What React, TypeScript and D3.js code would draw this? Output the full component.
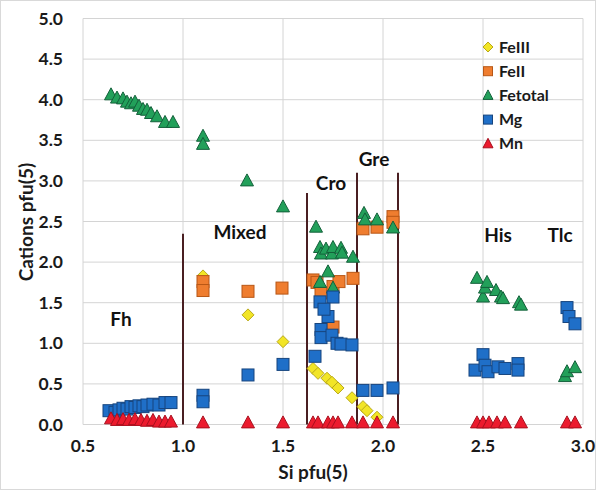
import React from "react";
import * as d3 from "d3";

const W = 596;
const H = 490;

const seriesNames = ["FeIII", "FeII", "Fetotal", "Mg", "Mn"];

const feIII: [number, number][] = [
  [1.1, 1.83], [1.325, 1.35], [1.5, 1.02],
  [1.65, 0.69], [1.675, 0.63], [1.72, 0.57], [1.745, 0.52], [1.775, 0.45],
  [1.845, 0.33], [1.9, 0.22], [1.92, 0.17], [1.97, 0.09],
];

const feII: [number, number][] = [
  [1.1, 1.76], [1.1, 1.65], [1.325, 1.64], [1.495, 1.68],
  [1.65, 1.78], [1.67, 1.75], [1.69, 1.62], [1.75, 1.7], [1.78, 1.76], [1.85, 1.8], [1.75, 1.2],
  [1.9, 2.41], [1.97, 2.43], [2.05, 2.56], [2.05, 2.49],
];

const feTotal: [number, number][] = [
  [0.64, 4.06], [0.67, 4.02], [0.7, 4.01], [0.72, 3.97], [0.74, 3.95], [0.76, 3.97],
  [0.78, 3.92], [0.8, 3.88], [0.82, 3.87], [0.84, 3.83], [0.87, 3.79], [0.91, 3.72], [0.95, 3.72],
  [1.1, 3.55], [1.1, 3.45], [1.32, 3.0], [1.5, 2.68],
  [1.665, 2.43], [1.685, 2.18], [1.69, 2.1], [1.715, 2.16], [1.745, 2.1], [1.75, 2.18],
  [1.79, 2.17], [1.795, 2.11], [1.85, 2.06], [1.725, 1.88], [1.685, 1.75], [1.75, 1.68],
  [1.905, 2.6], [1.91, 2.52], [1.97, 2.52], [2.05, 2.42],
  [2.47, 1.8], [2.5, 1.57], [2.51, 1.68], [2.52, 1.75], [2.565, 1.65], [2.59, 1.57], [2.6, 1.55],
  [2.68, 1.5], [2.69, 1.47],
  [2.91, 0.59], [2.92, 0.65], [2.96, 0.7],
];

const mg: [number, number][] = [
  [0.63, 0.17], [0.66, 0.15], [0.68, 0.18], [0.7, 0.2], [0.72, 0.19], [0.74, 0.22], [0.76, 0.21],
  [0.78, 0.23], [0.8, 0.22], [0.82, 0.24], [0.85, 0.25], [0.88, 0.24], [0.91, 0.27], [0.94, 0.27],
  [1.1, 0.36], [1.1, 0.28], [1.325, 0.61], [1.5, 0.74],
  [1.66, 0.84], [1.685, 1.51], [1.69, 1.17], [1.69, 1.07], [1.725, 1.33], [1.75, 1.57],
  [1.745, 1.1], [1.77, 1.0], [1.79, 0.99], [1.845, 0.98], [1.705, 1.42],
  [1.9, 0.42], [1.97, 0.42], [2.05, 0.45],
  [2.46, 0.67], [2.5, 0.86], [2.51, 0.73], [2.525, 0.65], [2.575, 0.71], [2.61, 0.69],
  [2.675, 0.75], [2.675, 0.67],
  [2.92, 1.44], [2.93, 1.33], [2.96, 1.24],
];

const mn: [number, number][] = [
  [0.64, 0.07], [0.67, 0.05], [0.7, 0.06], [0.73, 0.05], [0.76, 0.06], [0.79, 0.05],
  [0.82, 0.04], [0.85, 0.05], [0.88, 0.03], [0.91, 0.03], [0.94, 0.03],
  [1.1, 0.02], [1.325, 0.02], [1.5, 0.02],
  [1.65, 0.02], [1.675, 0.02], [1.725, 0.02], [1.75, 0.02], [1.775, 0.02], [1.845, 0.02],
  [1.9, 0.02], [1.97, 0.02], [2.05, 0.02],
  [2.47, 0.02], [2.5, 0.02], [2.53, 0.02], [2.57, 0.02], [2.61, 0.02], [2.69, 0.02],
  [2.92, 0.02], [2.96, 0.02],
];

const xTicks = [0.5, 1.0, 1.5, 2.0, 2.5, 3.0];
const yTicks = [0, 0.5, 1, 1.5, 2, 2.5, 3, 3.5, 4, 4.5, 5];

// boundary lines: x position and top value
const boundaries: [number, number][] = [
  [1.0, 2.35],
  [1.62, 2.85],
  [1.87, 3.1],
  [2.075, 3.1],
];

const regionLabels: { text: string; x: number; y: number }[] = [
  { text: "Fh", x: 0.69, y: 1.3 },
  { text: "Mixed", x: 1.285, y: 2.37 },
  { text: "Cro", x: 1.74, y: 2.97 },
  { text: "Gre", x: 1.955, y: 3.27 },
  { text: "His", x: 2.575, y: 2.33 },
  { text: "Tlc", x: 2.885, y: 2.33 },
];

const FONT = "Lato, 'Open Sans', sans-serif";

type Style = { shape: string; fill: string; stroke: string };
const styles: Record<string, Style> = {
  FeIII: { shape: "diamond", fill: "#f2e526", stroke: "#b8a81a" },
  FeII: { shape: "square", fill: "#ef7d2f", stroke: "#b85716" },
  Fetotal: { shape: "triangle", fill: "#22a05a", stroke: "#13603a" },
  Mg: { shape: "square", fill: "#1f6fc8", stroke: "#17457e" },
  Mn: { shape: "triangle", fill: "#ec1b2e", stroke: "#a8101e" },
};

function Marker({ x, y, s }: { x: number; y: number; s: Style }) {
  if (s.shape === "square") {
    return <rect x={x - 6} y={y - 6} width={12} height={12} fill={s.fill} stroke={s.stroke} strokeWidth={1} />;
  }
  if (s.shape === "diamond") {
    const r = 6;
    return (
      <path d={`M${x},${y - r}L${x + r},${y}L${x},${y + r}L${x - r},${y}Z`} fill={s.fill} stroke={s.stroke} strokeWidth={1} />
    );
  }
  return (
    <path d={`M${x},${y - 7}L${x + 6.5},${y + 5}L${x - 6.5},${y + 5}Z`} fill={s.fill} stroke={s.stroke} strokeWidth={1} />
  );
}

export default function App() {
  const x = d3.scaleLinear().domain([0.5, 3.0]).range([83, 583]);
  const y = d3.scaleLinear().domain([0, 5]).range([424.5, 18.5]);

  const data: Record<string, [number, number][]> = {
    FeIII: feIII,
    FeII: feII,
    Fetotal: feTotal,
    Mg: mg,
    Mn: mn,
  };

  return (
    <svg width={W} height={H} style={{ position: "absolute", left: 0, top: 0, background: "#fff" }} fontFamily={FONT}>
      <rect x={0.5} y={0.5} width={W - 1} height={H - 1} fill="#fff" stroke="#d9d9d9" />
      {/* grid */}
      {yTicks.map((t) => (
        <line key={"gy" + t} x1={x(0.5)} x2={x(3.0)} y1={y(t)} y2={y(t)} stroke="#d4d4d4" strokeWidth={1} />
      ))}
      {xTicks.map((t) => (
        <line key={"gx" + t} x1={x(t)} x2={x(t)} y1={y(0)} y2={y(5)} stroke="#d4d4d4" strokeWidth={1} />
      ))}
      {/* tick labels */}
      {yTicks.map((t) => (
        <text key={"ty" + t} x={63} y={y(t)} dy="0.35em" textAnchor="end" fontSize={17.5} fontWeight="bold" fill="#1a1a1a">
          {t.toFixed(1)}
        </text>
      ))}
      {xTicks.map((t) => (
        <text key={"tx" + t} x={x(t)} y={446} dy="0.35em" textAnchor="middle" fontSize={17.5} fontWeight="bold" fill="#1a1a1a">
          {t.toFixed(1)}
        </text>
      ))}
      {/* axis titles */}
      <text x={313} y={472} dy="0.35em" textAnchor="middle" fontSize={19} fontWeight="bold" fill="#1a1a1a">
        Si pfu(5)
      </text>
      <text
        transform={`translate(26,222) rotate(-90)`}
        dy="0.35em"
        textAnchor="middle"
        fontSize={19}
        fontWeight="bold"
        fill="#1a1a1a"
      >
        Cations pfu(5)
      </text>
      {/* boundaries */}
      {boundaries.map(([bx, top]) => (
        <line key={"b" + bx} x1={x(bx)} x2={x(bx)} y1={y(top)} y2={y(0)} stroke="#4a1f22" strokeWidth={2} />
      ))}
      {/* region labels */}
      {regionLabels.map((l) => (
        <text key={l.text} x={x(l.x)} y={y(l.y)} dy="0.35em" textAnchor="middle" fontSize={19} fontWeight="bold" fill="#111">
          {l.text}
        </text>
      ))}
      {/* series */}
      {seriesNames.map((name) => (
        <g key={name}>
          {data[name].map(([vx, vy], i) => (
            <Marker key={i} x={x(vx)} y={y(vy)} s={styles[name]} />
          ))}
        </g>
      ))}
      {/* legend */}
      {seriesNames.map((name, i) => {
        const ly = 47 + i * 24.2;
        const s = styles[name];
        return (
          <g key={"lg" + name}>
            {s.shape === "square" ? (
              <rect x={483.5} y={ly - 4.5} width={9} height={9} fill={s.fill} stroke={s.stroke} />
            ) : s.shape === "diamond" ? (
              <path d={`M488,${ly - 5}L493,${ly}L488,${ly + 5}L483,${ly}Z`} fill={s.fill} stroke={s.stroke} />
            ) : (
              <path d={`M488,${ly - 5.5}L493,${ly + 4}L483,${ly + 4}Z`} fill={s.fill} stroke={s.stroke} />
            )}
            <text x={499} y={ly} dy="0.35em" fontSize={16} fontWeight="bold" fill="#1a1a1a">
              {name}
            </text>
          </g>
        );
      })}
    </svg>
  );
}
